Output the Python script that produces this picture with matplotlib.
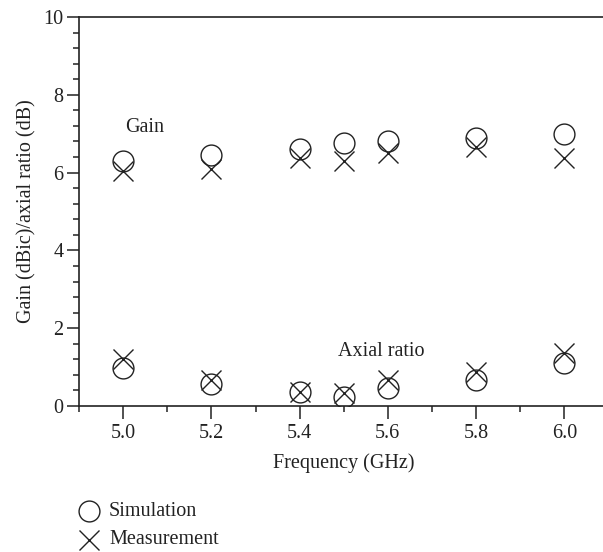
import numpy as np
import matplotlib
matplotlib.use("Agg")
import matplotlib.pyplot as plt
from matplotlib.ticker import MultipleLocator

# Datos
freq = [5.0, 5.2, 5.4, 5.5, 5.6, 5.8, 6.0]
gain_sim = [6.31, 6.44, 6.61, 6.77, 6.80, 6.89, 6.99]
gain_meas = [6.04, 6.09, 6.38, 6.31, 6.50, 6.66, 6.37]
ar_sim = [0.97, 0.57, 0.36, 0.23, 0.46, 0.68, 1.11]
ar_meas = [1.22, 0.67, 0.37, 0.33, 0.68, 0.87, 1.36]

plt.rcParams['font.family'] = ['Liberation Serif', 'DejaVu Serif']
color = '#222222'
fs = 14.5

fig = plt.figure(figsize=(6.03, 5.52), dpi=100)
ax = fig.add_axes([79 / 603, 146 / 552, 529.5 / 603, 389 / 552])

mk = dict(linestyle='none', markersize=15, markeredgewidth=1.0, color=color)
ax.plot(freq, gain_sim, marker='o', markerfacecolor='none', **mk)
ax.plot(freq, gain_meas, marker='x', **mk)
ax.plot(freq, ar_sim, marker='o', markerfacecolor='none', **mk)
ax.plot(freq, ar_meas, marker='x', **mk)

ax.set_xlim(4.9, 6.1)
ax.set_ylim(0, 10)
ax.xaxis.set_major_locator(MultipleLocator(0.2))
ax.xaxis.set_minor_locator(MultipleLocator(0.1))
ax.yaxis.set_major_locator(MultipleLocator(2))
ax.yaxis.set_minor_locator(MultipleLocator(0.4))
ax.xaxis.set_major_formatter(plt.FormatStrFormatter('%.1f'))

ax.spines['right'].set_visible(False)
for s in ['left', 'bottom', 'top']:
    ax.spines[s].set_linewidth(1.2)
    ax.spines[s].set_color(color)
ax.tick_params(which='major', direction='out', length=9, width=1.1, color=color,
               labelsize=fs, labelcolor=color, top=False, right=False)
ax.tick_params(which='minor', direction='out', length=4.5, width=1.1, color=color,
               top=False, right=False)
ax.tick_params(axis='x', which='major', pad=4)
ax.tick_params(axis='y', which='major', pad=2)

ax.set_xlabel("Frequency (GHz)", fontsize=fs, color=color, labelpad=7)
ax.set_ylabel("Gain (dBic)/axial ratio (dB)", fontsize=fs, color=color, labelpad=5)

ax.text(5.005, 7.15, "Gain", fontsize=fs, color=color, va='center', ha='left')
ax.text(5.488, 1.4, "Axial ratio", fontsize=fs, color=color, va='center', ha='left')

# Leyenda debajo del gráfico
fig.text(109 / 603, 1 - 511 / 552, "Simulation", fontsize=fs, color=color, va='center')
fig.text(109 / 603, 1 - 540 / 552, "Measurement", fontsize=fs, color=color, va='center')
fig.lines.append(plt.Line2D([89 / 603], [1 - 511 / 552], transform=fig.transFigure,
                            marker='o', markerfacecolor='none', **mk))
fig.lines.append(plt.Line2D([89 / 603], [1 - 540 / 552], transform=fig.transFigure,
                            marker='x', **mk))

fig.savefig("out.png", dpi=100)
